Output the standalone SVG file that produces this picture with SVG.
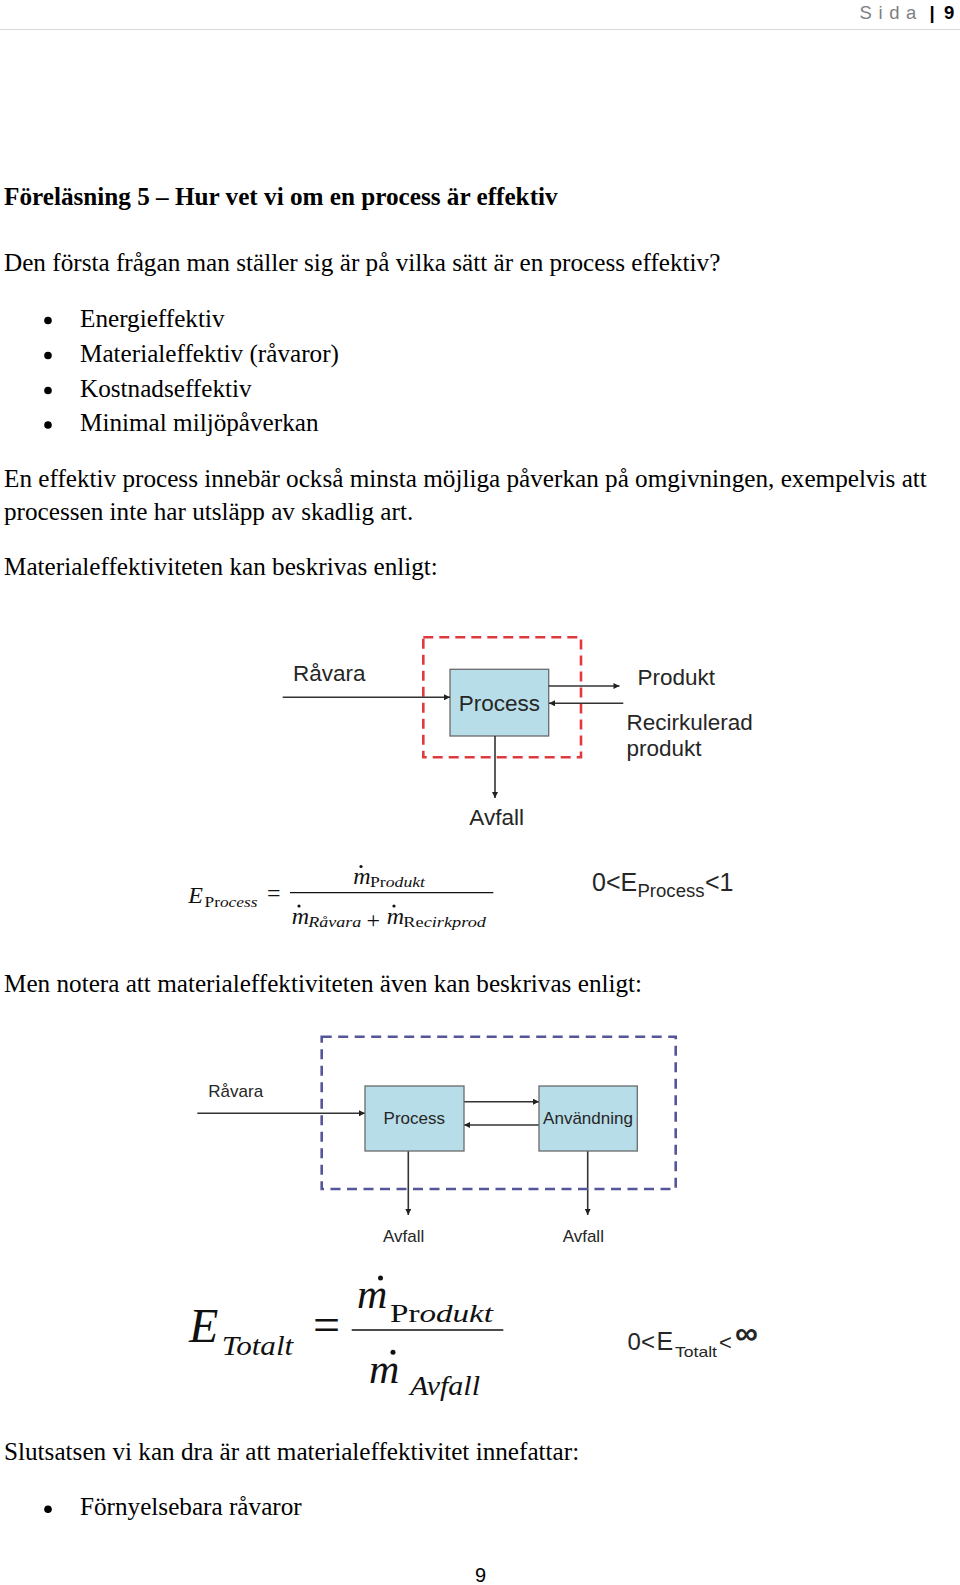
<svg xmlns="http://www.w3.org/2000/svg" width="960" height="1585" viewBox="0 0 960 1585">
<style>
.body{font-family:"Liberation Serif","Times New Roman",serif;font-size:25.2px;fill:#000}
.bold{font-weight:bold}
.hdr{font-family:"Liberation Sans",Arial,sans-serif;font-size:18.5px}
.lbl1{font-family:"Liberation Sans",Arial,sans-serif;font-size:22.5px;fill:#262626}
.lbl2{font-family:"Liberation Sans",Arial,sans-serif;font-size:17px;fill:#262626}
.box{fill:#b7dde8;stroke:#6a6a6a;stroke-width:1.3}
.conn{stroke:#333;stroke-width:1.6;fill:none;marker-end:url(#ah)}
.math{font-family:"Liberation Serif","Times New Roman",serif;fill:#111}
.it{font-style:italic}
.sans{font-family:"Liberation Sans",Arial,sans-serif;fill:#262626}
</style>
<defs>
<marker id="ah" viewBox="0 0 10 10" refX="10" refY="5" markerWidth="7" markerHeight="6" orient="auto" markerUnits="userSpaceOnUse">
<path d="M0,0 L10,5 L0,10 z" fill="#222"/>
</marker>
</defs>
<rect x="0" y="0" width="960" height="1585" fill="#fff"/>

<g id="header">
<text class="hdr" x="859.5" y="19" fill="#7f7f7f" letter-spacing="6.6">Sida</text>
<text class="hdr" x="929.5" y="19" font-weight="bold" fill="#000">|</text>
<text class="hdr" x="944" y="19" font-weight="bold" fill="#000">9</text>
<line x1="0" y1="29.5" x2="960" y2="29.5" stroke="#d9d9d9" stroke-width="1"/>
</g>

<g id="text-top">
<text class="body bold" x="4" y="205">Föreläsning 5 – Hur vet vi om en process är effektiv</text>
<text class="body" x="4" y="270.5">Den första frågan man ställer sig är på vilka sätt är en process effektiv?</text>
<circle cx="48" cy="320.5" r="3.8" fill="#000"/>
<text class="body" x="80" y="326.5">Energieffektiv</text>
<circle cx="48" cy="355.5" r="3.8" fill="#000"/>
<text class="body" x="80" y="361.5">Materialeffektiv (råvaror)</text>
<circle cx="48" cy="390.5" r="3.8" fill="#000"/>
<text class="body" x="80" y="396.5">Kostnadseffektiv</text>
<circle cx="48" cy="425" r="3.8" fill="#000"/>
<text class="body" x="80" y="431">Minimal miljöpåverkan</text>
<text class="body" x="4" y="486.5">En effektiv process innebär också minsta möjliga påverkan på omgivningen, exempelvis att</text>
<text class="body" x="4" y="520">processen inte har utsläpp av skadlig art.</text>
<text class="body" x="4" y="574.5">Materialeffektiviteten kan beskrivas enligt:</text>
</g>

<g id="diagram1-boundary">
<rect x="423.3" y="637.3" width="157.7" height="120" fill="none" stroke="#e03a3e" stroke-width="2.6" stroke-dasharray="10,6"/>
</g>
<g id="d1-process">
<rect class="box" x="450" y="669.3" width="98.7" height="66.7"/>
<text class="lbl1" x="499.3" y="710.7" text-anchor="middle">Process</text>
</g>
<g id="d1-ravara"><text class="lbl1" x="293" y="681">Råvara</text></g>
<g id="d1-produkt"><text class="lbl1" x="637.5" y="685">Produkt</text></g>
<g id="d1-recirk">
<text class="lbl1" x="626.5" y="730">Recirkulerad</text>
<text class="lbl1" x="626.5" y="756">produkt</text>
</g>
<g id="d1-avfall"><text class="lbl1" x="469.3" y="825">Avfall</text></g>

<g id="connectors">
<path class="conn" d="M282.7,697.3 H450"/>
<path class="conn" d="M548.7,686 H619.5"/>
<path class="conn" d="M623.3,703.3 H549"/>
<path class="conn" d="M495,736 V798" stroke-width="2"/>
<path class="conn" d="M197.3,1113.3 H365"/>
<path class="conn" d="M464,1101.7 H539"/>
<path class="conn" d="M539,1125 H464"/>
<path class="conn" d="M408.3,1151 V1215"/>
<path class="conn" d="M587.7,1151 V1215"/>
</g>

<g id="formula1">
<text class="math it" x="188.3" y="902.5" font-size="24">E</text>
<text class="math" x="204.5" y="906.5" font-size="15" textLength="53" lengthAdjust="spacingAndGlyphs">Pr<tspan class="it">ocess</tspan></text>
<text class="math" x="267" y="901" font-size="24">=</text>
<line x1="290" y1="892.7" x2="493.3" y2="892.7" stroke="#111" stroke-width="1.3"/>
<text class="math it" x="353.3" y="884" font-size="24">m</text>
<circle cx="361" cy="866.5" r="1.6" fill="#111"/>
<text class="math" x="370" y="887" font-size="15" textLength="55" lengthAdjust="spacingAndGlyphs">Pr<tspan class="it">odukt</tspan></text>
<text class="math it" x="291.7" y="923.5" font-size="24">m</text>
<circle cx="299" cy="906" r="1.6" fill="#111"/>
<text class="math it" x="308.3" y="927.3" font-size="15" textLength="53" lengthAdjust="spacingAndGlyphs">Råvara</text>
<text class="math" x="366.5" y="927.5" font-size="24">+</text>
<text class="math it" x="386.7" y="923.5" font-size="24">m</text>
<circle cx="394" cy="906" r="1.6" fill="#111"/>
<text class="math" x="403.3" y="927.3" font-size="15" textLength="82.7" lengthAdjust="spacingAndGlyphs">Re<tspan class="it">cirkprod</tspan></text>
</g>

<g id="range1">
<text class="sans" x="592" y="891" font-size="25">0</text>
<text class="sans" x="606" y="891" font-size="25">&lt;</text>
<text class="sans" x="620.5" y="891" font-size="25">E</text>
<text class="sans" x="637.5" y="897" font-size="18" textLength="67" lengthAdjust="spacingAndGlyphs">Process</text>
<text class="sans" x="705" y="891" font-size="25">&lt;</text>
<text class="sans" x="719.5" y="891" font-size="25">1</text>
</g>

<g id="text-mid">
<text class="body" x="4" y="991.5">Men notera att materialeffektiviteten även kan beskrivas enligt:</text>
</g>

<g id="diagram2-boundary">
<rect x="321.7" y="1036.7" width="354" height="152.3" fill="none" stroke="#55559a" stroke-width="2.6" stroke-dasharray="10,6.5"/>
</g>
<g id="d2-process">
<rect class="box" x="365" y="1086" width="99" height="65"/>
<text class="lbl2" x="414.3" y="1124" text-anchor="middle">Process</text>
</g>
<g id="d2-anvandning">
<rect class="box" x="539" y="1086" width="98.3" height="65"/>
<text class="lbl2" x="588" y="1124" text-anchor="middle">Användning</text>
</g>
<g id="d2-ravara"><text class="lbl2" x="208.3" y="1096.7">Råvara</text></g>
<g id="d2-avfall1"><text class="lbl2" x="403.7" y="1241.7" text-anchor="middle" font-size="16.5">Avfall</text></g>
<g id="d2-avfall2"><text class="lbl2" x="583.3" y="1241.7" text-anchor="middle" font-size="16.5">Avfall</text></g>

<g id="formula2">
<text class="math it" x="189" y="1342.3" font-size="48">E</text>
<text class="math it" x="221.7" y="1355" font-size="28" textLength="71.5" lengthAdjust="spacingAndGlyphs">Totalt</text>
<text class="math" x="313" y="1341" font-size="48">=</text>
<line x1="351.7" y1="1330" x2="503.3" y2="1330" stroke="#111" stroke-width="1.5"/>
<text class="math it" x="357" y="1308.3" font-size="42">m</text>
<circle cx="380.5" cy="1278" r="2.5" fill="#111"/>
<text class="math" x="390" y="1321.7" font-size="26" textLength="103" lengthAdjust="spacingAndGlyphs">Pr<tspan class="it">odukt</tspan></text>
<text class="math it" x="369" y="1383.3" font-size="42">m</text>
<circle cx="393" cy="1352.3" r="2.5" fill="#111"/>
<text class="math it" x="410" y="1395" font-size="28" textLength="70" lengthAdjust="spacingAndGlyphs">Avfall</text>
</g>

<g id="range2">
<text class="sans" x="627.5" y="1350" font-size="24">0</text>
<text class="sans" x="641" y="1350" font-size="24">&lt;</text>
<text class="sans" x="656.5" y="1350" font-size="25">E</text>
<text class="sans" x="675" y="1357" font-size="15" textLength="42" lengthAdjust="spacingAndGlyphs">Totalt</text>
<text class="sans" x="719" y="1350" font-size="22">&lt;</text>
<text class="sans" x="735" y="1343.5" font-size="32" font-weight="bold">∞</text>
</g>

<g id="text-bottom">
<text class="body" x="4" y="1460">Slutsatsen vi kan dra är att materialeffektivitet innefattar:</text>
<circle cx="48" cy="1509.3" r="3.8" fill="#000"/>
<text class="body" x="80" y="1515.3">Förnyelsebara råvaror</text>
<text x="475" y="1581.5" font-family="'Liberation Sans',Arial,sans-serif" font-size="20" fill="#000">9</text>
</g>
</svg>
